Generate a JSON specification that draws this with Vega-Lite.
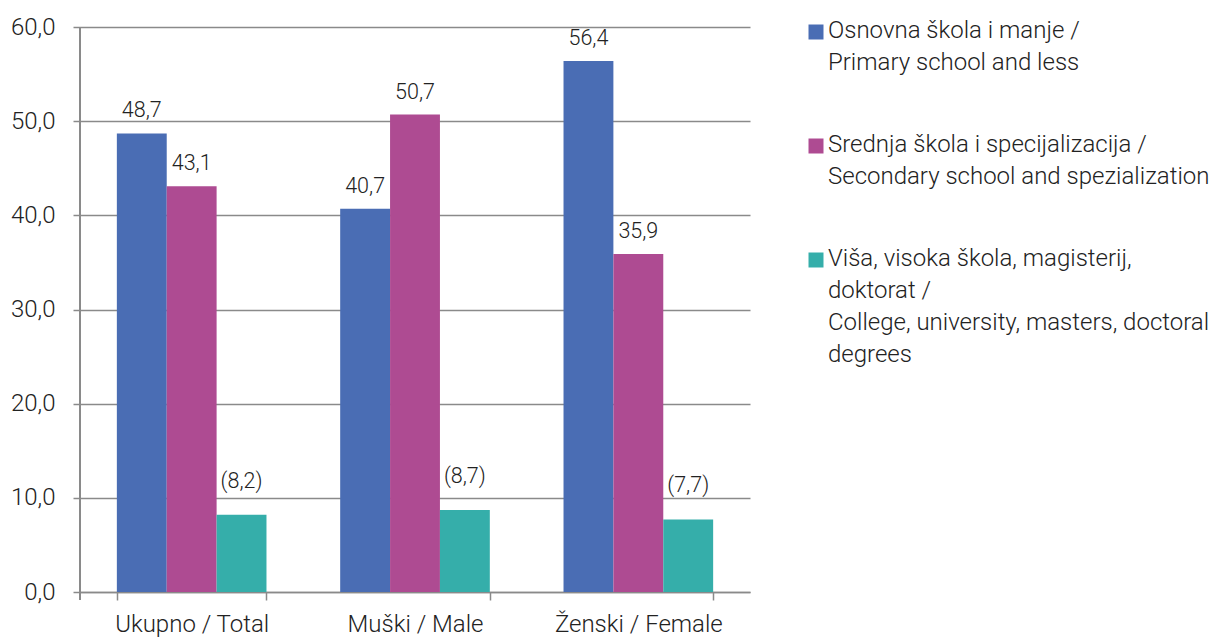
{
  "$schema": "https://vega.github.io/schema/vega-lite/v6.json",
  "autosize": {"type": "none"},
  "width": 670,
  "height": 565,
  "padding": {"left": 80, "top": 27, "right": 464, "bottom": 45},
  "background": "white",
  "config": {
    "font": "Roboto",
    "view": {"stroke": null},
    "axis": {"labelFont": "Roboto", "labelFontWeight": 300, "labelColor": "#222222", "labelFontSize": 24, "title": null}
  },
  "data": {
    "values": [
      {"group": "Ukupno / Total", "edu": "Osnovna škola i manje /|Primary school and less", "value": 48.7, "lbl": "48,7", "est": false},
      {"group": "Ukupno / Total", "edu": "Srednja škola i specijalizacija /|Secondary school and spezialization", "value": 43.1, "lbl": "43,1", "est": false},
      {"group": "Ukupno / Total", "edu": "Viša, visoka škola, magisterij,|doktorat /|College, university, masters, doctoral|degrees", "value": 8.2, "lbl": "(8,2)", "est": true},
      {"group": "Muški / Male", "edu": "Osnovna škola i manje /|Primary school and less", "value": 40.7, "lbl": "40,7", "est": false},
      {"group": "Muški / Male", "edu": "Srednja škola i specijalizacija /|Secondary school and spezialization", "value": 50.7, "lbl": "50,7", "est": false},
      {"group": "Muški / Male", "edu": "Viša, visoka škola, magisterij,|doktorat /|College, university, masters, doctoral|degrees", "value": 8.7, "lbl": "(8,7)", "est": true},
      {"group": "Ženski / Female", "edu": "Osnovna škola i manje /|Primary school and less", "value": 56.4, "lbl": "56,4", "est": false},
      {"group": "Ženski / Female", "edu": "Srednja škola i specijalizacija /|Secondary school and spezialization", "value": 35.9, "lbl": "35,9", "est": false},
      {"group": "Ženski / Female", "edu": "Viša, visoka škola, magisterij,|doktorat /|College, university, masters, doctoral|degrees", "value": 7.7, "lbl": "(7,7)", "est": true}
    ]
  },
  "encoding": {
    "x": {
      "field": "group", "type": "nominal", "sort": null,
      "scale": {"paddingInner": 0.33, "paddingOuter": 0.165},
      "axis": {"labelAngle": 0, "tickBand": "extent", "domainColor": "#8a8a8a", "domainWidth": 1.5, "tickColor": "#8a8a8a", "tickWidth": 1.5, "tickSize": 8, "labelPadding": 12, "grid": false}
    },
    "xOffset": {"field": "edu", "type": "nominal", "sort": null},
    "y": {
      "field": "value", "type": "quantitative",
      "scale": {"domain": [0, 60]},
      "axis": {"values": [0, 10, 20, 30, 40, 50, 60], "labelExpr": "replace(format(datum.value, '.1f'), '.', ',')", "domain": false, "ticks": true, "tickSize": 7, "tickColor": "#8a8a8a", "tickWidth": 1.5, "gridColor": "#8a8a8a", "gridWidth": 1.5, "labelPadding": 18}
    }
  },
  "layer": [
    {
      "mark": {"type": "rule", "color": "#8a8a8a", "strokeWidth": 1.5},
      "encoding": {"x": {"value": 0}, "y": {"value": 0}, "y2": {"value": 573}, "xOffset": null}
    },
    {
      "mark": {"type": "bar"},
      "encoding": {
        "color": {
          "field": "edu", "type": "nominal", "sort": null,
          "scale": {"range": ["#4a6db4", "#ae4b92", "#35aeaa"]},
          "legend": {
            "title": null, "orient": "none", "legendX": 724, "legendY": -7,
            "symbolType": "square", "symbolSize": 225, "symbolStrokeWidth": 0,
            "labelExpr": "split(datum.label, '|')",
            "labelFont": "Roboto", "labelFontWeight": 300, "labelFontSize": 24, "labelColor": "#222222",
            "labelLimit": 1000, "labelOffset": 0, "labelBaseline": "top", "rowPadding": 58, "padding": 0,
            "encode": {"labels": {"update": {"lineHeight": {"value": 32}, "dy": {"value": -13}}}}
          }
        }
      }
    },
    {
      "transform": [{"filter": "!datum.est"}],
      "mark": {"type": "text", "baseline": "alphabetic", "dy": -16, "fontSize": 21.5, "fontWeight": 300, "color": "#222222"},
      "encoding": {"text": {"field": "lbl"}}
    },
    {
      "transform": [{"filter": "datum.est"}],
      "mark": {"type": "text", "baseline": "alphabetic", "dy": -27, "fontSize": 21.5, "fontWeight": 300, "color": "#222222"},
      "encoding": {"text": {"field": "lbl"}}
    }
  ]
}
